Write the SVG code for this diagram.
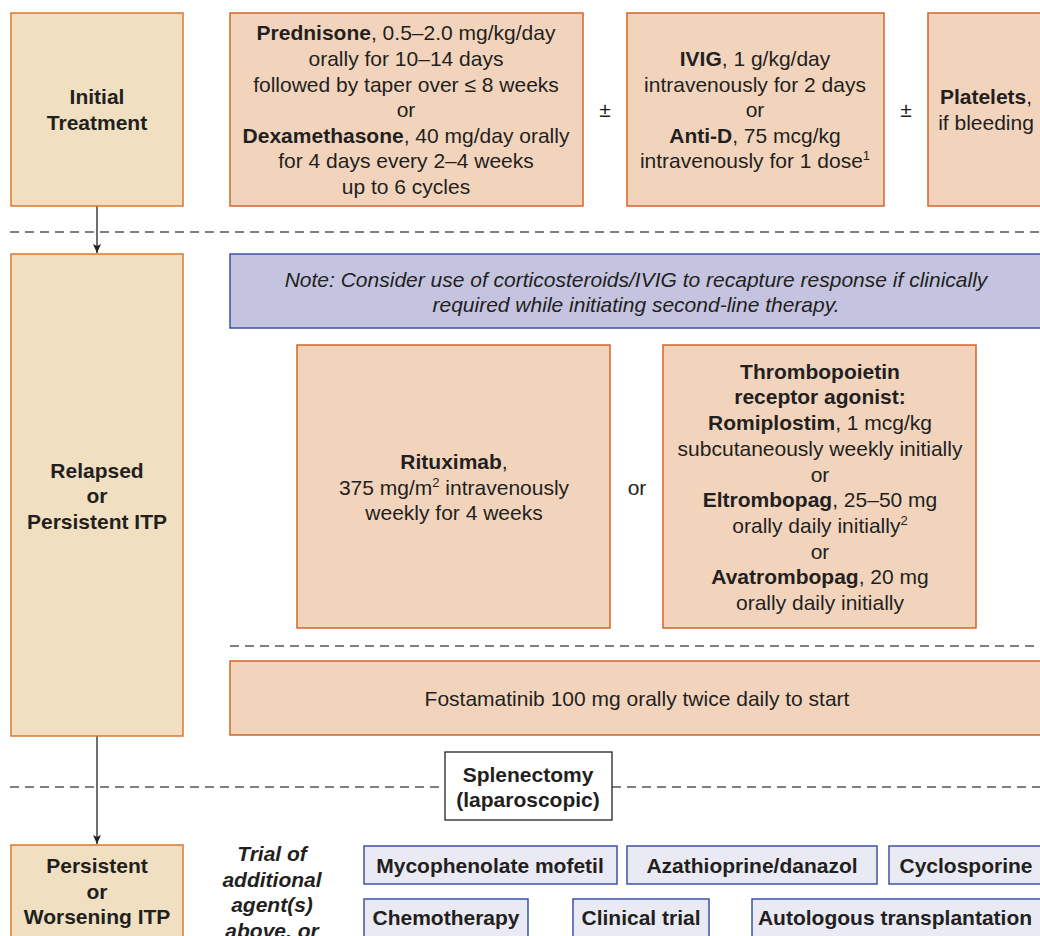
<svg xmlns="http://www.w3.org/2000/svg" width="1040" height="936" viewBox="0 0 1040 936">
<defs>
<marker id="arr" markerWidth="10" markerHeight="10" refX="9" refY="5" orient="auto" markerUnits="userSpaceOnUse">
<path d="M0,1 L9,5 L0,9 L2,5 Z" fill="#222"/>
</marker>
<style>
text{font-family:"Liberation Sans",Arial,sans-serif;font-size:21px;fill:#231f20;text-anchor:middle}
.b{font-weight:bold}
.i{font-style:italic}
.stage{fill:#f0e0c1;stroke:#d9782f;stroke-width:1.5}
.tx{fill:#f2d4bd;stroke:#d5642a;stroke-width:1.5}
.note{fill:#c4c4e1;stroke:#3b53a4;stroke-width:1.5}
.ag{fill:#e9eaf4;stroke:#3b53a4;stroke-width:1.5}
.sp{fill:#fff;stroke:#222;stroke-width:1.3}
.dash{stroke:#555;stroke-width:1.5;stroke-dasharray:9 6;fill:none}
.conn{stroke:#222;stroke-width:1.3;fill:none}
.sup{font-size:13px}
</style>
</defs>

<g id="separators">
<line class="dash" x1="10" y1="232" x2="1040" y2="232"/>
<line class="dash" x1="230" y1="646" x2="1040" y2="646"/>
<line class="dash" x1="10" y1="787" x2="445" y2="787"/>
<line class="dash" x1="612" y1="787" x2="1040" y2="787"/>
</g>

<g id="connectors">
<line class="conn" x1="97" y1="206" x2="97" y2="253" marker-end="url(#arr)"/>
<line class="conn" x1="97" y1="736" x2="97" y2="844" marker-end="url(#arr)"/>
</g>

<g id="initial">
<rect class="stage" x="11" y="13" width="172" height="193"/>
<text class="b" x="97" y="104">Initial</text>
<text class="b" x="97" y="130">Treatment</text>
</g>

<g id="steroids">
<rect class="tx" x="230" y="13" width="353" height="193"/>
<text x="406" y="40"><tspan class="b">Prednisone</tspan>, 0.5–2.0 mg/kg/day</text>
<text x="406" y="66">orally for 10–14 days</text>
<text x="406" y="92">followed by taper over ≤ 8 weeks</text>
<text x="406" y="117">or</text>
<text x="406" y="143"><tspan class="b">Dexamethasone</tspan>, 40 mg/day orally</text>
<text x="406" y="168">for 4 days every 2–4 weeks</text>
<text x="406" y="194">up to 6 cycles</text>
</g>

<g id="pm1"><text x="605" y="117">±</text></g>

<g id="ivig">
<rect class="tx" x="627" y="13" width="257" height="193"/>
<text x="755" y="66"><tspan class="b">IVIG</tspan>, 1 g/kg/day</text>
<text x="755" y="92">intravenously for 2 days</text>
<text x="755" y="117">or</text>
<text x="755" y="143"><tspan class="b">Anti-D</tspan>, 75 mcg/kg</text>
<text x="755" y="168">intravenously for 1 dose<tspan class="sup" dy="-8">1</tspan></text>
</g>

<g id="pm2"><text x="906" y="117">±</text></g>

<g id="platelets">
<rect class="tx" x="928" y="13" width="130" height="193"/>
<text x="986" y="104"><tspan class="b">Platelets</tspan>,</text>
<text x="986" y="130">if bleeding</text>
</g>

<g id="relapsed">
<rect class="stage" x="11" y="254" width="172" height="482"/>
<text class="b" x="97" y="478">Relapsed</text>
<text class="b" x="97" y="503">or</text>
<text class="b" x="97" y="529">Persistent ITP</text>
</g>

<g id="note">
<rect class="note" x="230" y="254" width="820" height="74"/>
<text class="i" x="636" y="287">Note: Consider use of corticosteroids/IVIG to recapture response if clinically</text>
<text class="i" x="636" y="312">required while initiating second-line therapy.</text>
</g>

<g id="rituximab">
<rect class="tx" x="297" y="345" width="313" height="283"/>
<text x="454" y="469"><tspan class="b">Rituximab</tspan>,</text>
<text x="454" y="495">375 mg/m<tspan class="sup" dy="-8">2</tspan><tspan dy="8"> intravenously</tspan></text>
<text x="454" y="520">weekly for 4 weeks</text>
</g>

<g id="or1"><text x="637" y="495">or</text></g>

<g id="tpo">
<rect class="tx" x="663" y="345" width="313" height="283"/>
<text class="b" x="820" y="379">Thrombopoietin</text>
<text class="b" x="820" y="404">receptor agonist:</text>
<text x="820" y="430"><tspan class="b">Romiplostim</tspan>, 1 mcg/kg</text>
<text x="820" y="456">subcutaneously weekly initially</text>
<text x="820" y="482">or</text>
<text x="820" y="507"><tspan class="b">Eltrombopag</tspan>, 25–50 mg</text>
<text x="820" y="533">orally daily initially<tspan class="sup" dy="-8">2</tspan></text>
<text x="820" y="559">or</text>
<text x="820" y="584"><tspan class="b">Avatrombopag</tspan>, 20 mg</text>
<text x="820" y="610">orally daily initially</text>
</g>

<g id="fostamatinib">
<rect class="tx" x="230" y="661" width="820" height="74"/>
<text x="637" y="706">Fostamatinib 100 mg orally twice daily to start</text>
</g>

<g id="splenectomy">
<rect class="sp" x="445" y="752" width="167" height="68"/>
<text class="b" x="528" y="782">Splenectomy</text>
<text class="b" x="528" y="807">(laparoscopic)</text>
</g>

<g id="persistent">
<rect class="stage" x="11" y="845" width="172" height="100"/>
<text class="b" x="97" y="873">Persistent</text>
<text class="b" x="97" y="899">or</text>
<text class="b" x="97" y="924">Worsening ITP</text>
</g>

<g id="trial">
<text class="b i" x="272" y="861">Trial of</text>
<text class="b i" x="272" y="887">additional</text>
<text class="b i" x="272" y="912">agent(s)</text>
<text class="b i" x="272" y="938">above, or</text>
</g>

<g id="mycophenolate">
<rect class="ag" x="364" y="846" width="253" height="38"/>
<text class="b" x="490" y="873">Mycophenolate mofetil</text>
</g>
<g id="azathioprine">
<rect class="ag" x="627" y="846" width="250" height="38"/>
<text class="b" x="752" y="873">Azathioprine/danazol</text>
</g>
<g id="cyclosporine">
<rect class="ag" x="889" y="846" width="160" height="38"/>
<text class="b" x="966" y="873">Cyclosporine</text>
</g>
<g id="chemotherapy">
<rect class="ag" x="364" y="899" width="164" height="45"/>
<text class="b" x="446" y="925">Chemotherapy</text>
</g>
<g id="clinicaltrial">
<rect class="ag" x="573" y="899" width="136" height="45"/>
<text class="b" x="641" y="925">Clinical trial</text>
</g>
<g id="autologous">
<rect class="ag" x="752" y="899" width="300" height="45"/>
<text class="b" x="895" y="925">Autologous transplantation</text>
</g>
</svg>
